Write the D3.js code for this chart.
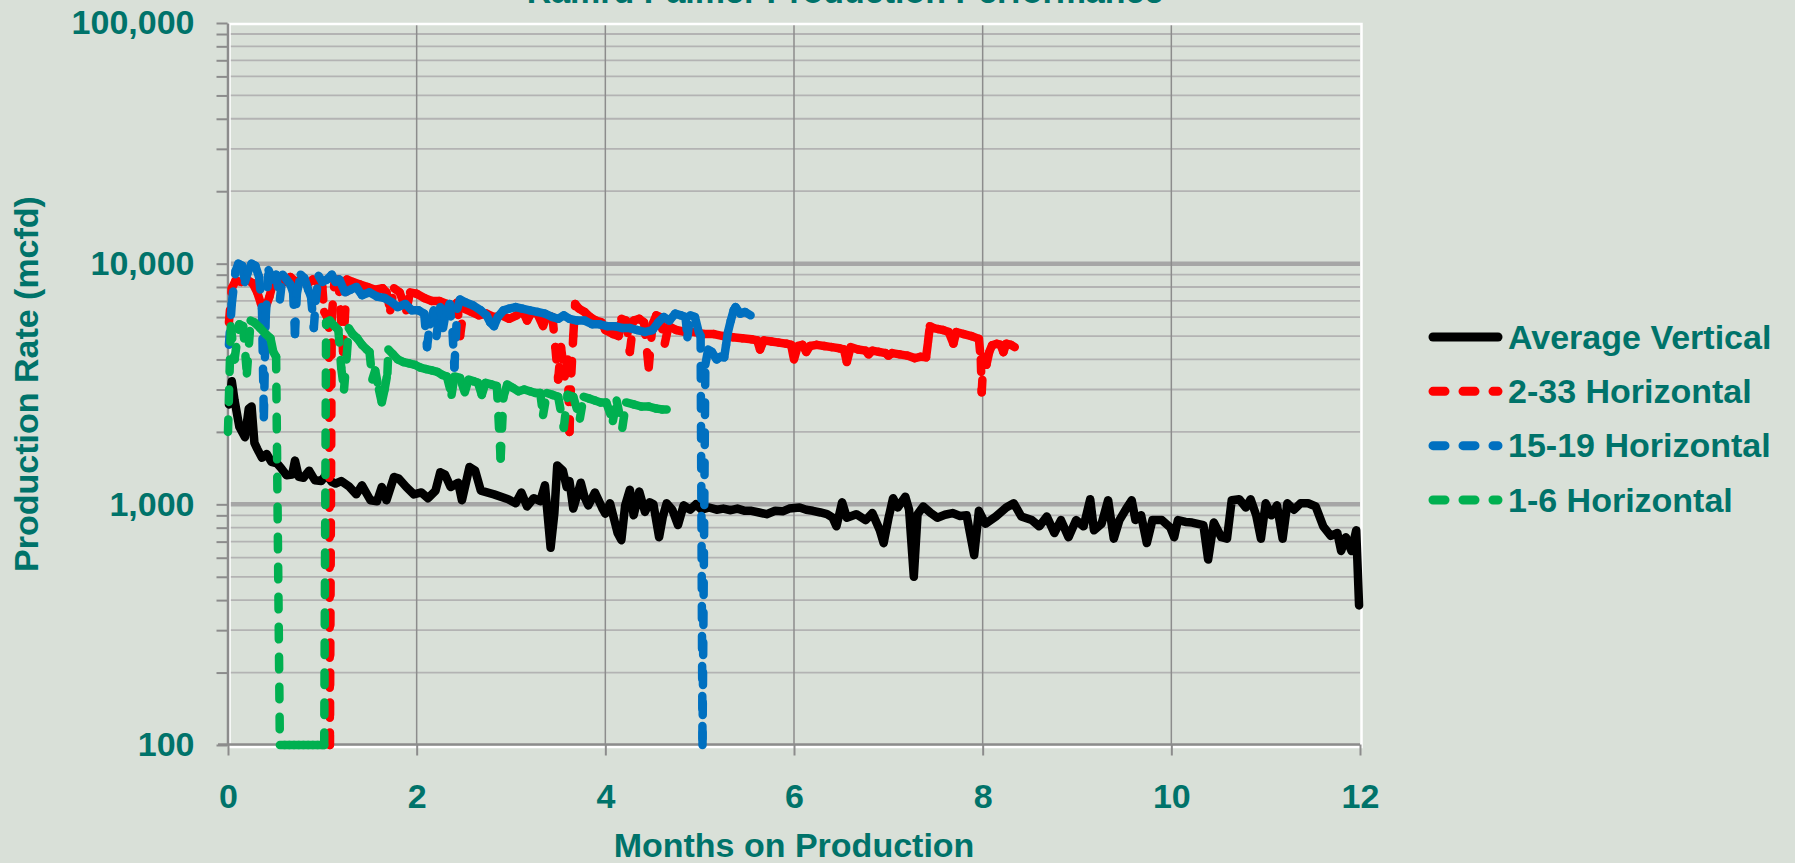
<!DOCTYPE html>
<html>
<head>
<meta charset="utf-8">
<script src="https://cdn.jsdelivr.net/npm/d3@7"></script>
<style>
  html, body { margin: 0; padding: 0; background: #d9e0d8; }
  svg { display: block; }
</style>
</head>
<body>
<svg id="chart" width="1795" height="863"></svg>
<script>
// --- DATA (months on production, rate in mcfd) ---
const chartTitle = 'Ramrd Palmer Production Performance';
const xLabel = 'Months on Production';
const yLabel = 'Production Rate (mcfd)';
const xTicks = [0, 2, 4, 6, 8, 10, 12];
const yLabelTicks = [100, 1000, 10000, 100000];
const seriesNames = ['Average Vertical', '2-33 Horizontal', '15-19 Horizontal', '1-6 Horizontal'];

const avgVertical = [
  [0.01, 2600], [0.04, 3250], [0.07, 2700], [0.12, 2100], [0.18, 1900], [0.22, 2500], [0.25, 2550],
  [0.28, 1800], [0.31, 1700], [0.36, 1560], [0.41, 1620], [0.46, 1500], [0.52, 1480], [0.56, 1420],
  [0.62, 1320], [0.68, 1330], [0.71, 1520], [0.75, 1300], [0.8, 1290], [0.86, 1380], [0.92, 1260],
  [0.99, 1250], [1.04, 1330], [1.1, 1240], [1.14, 1220], [1.2, 1250], [1.28, 1190], [1.36, 1100],
  [1.42, 1200], [1.51, 1040], [1.58, 1030], [1.63, 1180], [1.68, 1040], [1.76, 1300], [1.81, 1280],
  [1.89, 1180], [1.97, 1100], [2.05, 1120], [2.12, 1060], [2.2, 1140], [2.25, 1360], [2.3, 1330],
  [2.36, 1180], [2.44, 1230], [2.48, 1040], [2.56, 1430], [2.62, 1380], [2.68, 1140], [2.82, 1100],
  [2.97, 1050], [3.05, 1010], [3.11, 1120], [3.17, 980], [3.24, 1060], [3.31, 1030], [3.36, 1200],
  [3.42, 660], [3.46, 920], [3.49, 1450], [3.55, 1380], [3.59, 1180], [3.62, 1250], [3.66, 960],
  [3.74, 1230], [3.78, 1070], [3.82, 990], [3.89, 1120], [3.97, 960], [4.0, 915], [4.05, 1010],
  [4.13, 760], [4.17, 710], [4.21, 990], [4.26, 1150], [4.3, 900], [4.36, 1130], [4.42, 930],
  [4.47, 1020], [4.51, 1000], [4.57, 730], [4.61, 890], [4.65, 1010], [4.71, 950], [4.77, 820],
  [4.83, 990], [4.9, 950], [4.96, 1000], [5.02, 950], [5.1, 970], [5.18, 950], [5.25, 960],
  [5.33, 945], [5.4, 960], [5.48, 940], [5.55, 940], [5.63, 925], [5.71, 910], [5.8, 940],
  [5.88, 935], [5.95, 960], [6.06, 970], [6.13, 950], [6.2, 940], [6.28, 925], [6.35, 910],
  [6.41, 880], [6.45, 810], [6.51, 1020], [6.56, 880], [6.66, 910], [6.76, 860], [6.83, 920],
  [6.91, 780], [6.95, 690], [7.0, 870], [7.05, 1060], [7.1, 970], [7.18, 1075], [7.22, 950],
  [7.27, 500], [7.31, 910], [7.37, 980], [7.45, 920], [7.52, 880], [7.6, 905], [7.68, 920],
  [7.76, 895], [7.83, 900], [7.91, 615], [7.96, 940], [8.03, 830], [8.14, 890], [8.25, 970],
  [8.33, 1010], [8.41, 890], [8.52, 860], [8.6, 810], [8.68, 890], [8.76, 760], [8.83, 860],
  [8.91, 730], [8.99, 860], [9.07, 810], [9.14, 1050], [9.18, 780], [9.26, 830], [9.33, 1040],
  [9.39, 720], [9.45, 860], [9.53, 970], [9.58, 1040], [9.62, 860], [9.68, 900], [9.74, 690],
  [9.8, 860], [9.9, 860], [9.99, 800], [10.03, 730], [10.07, 860], [10.15, 845], [10.22, 840],
  [10.34, 820], [10.39, 590], [10.45, 840], [10.53, 730], [10.59, 720], [10.64, 1040], [10.72, 1050],
  [10.79, 970], [10.84, 1050], [10.9, 900], [10.95, 720], [11.0, 1010], [11.06, 900], [11.12, 990],
  [11.18, 720], [11.23, 1010], [11.3, 950], [11.37, 1010], [11.45, 1010], [11.53, 980], [11.61, 810],
  [11.69, 740], [11.76, 760], [11.8, 640], [11.85, 730], [11.91, 640], [11.96, 780], [11.99, 380]
];

const h233 = [
  [0.01, 5700], [0.04, 7900], [0.08, 8500], [0.14, 8400], [0.2, 8600], [0.26, 8300], [0.31, 7600],
  [0.35, 6800], [0.4, 6600], [0.44, 7300], [0.48, 8400], [0.54, 8800], [0.6, 8400], [0.66, 8800],
  [0.72, 8400], [0.78, 8600], [0.84, 8200], [0.9, 8600], [0.96, 8300], [1.0, 8000], [1.02, 6300],
  [1.05, 6000], [1.07, 6100], [1.08, 100], [1.1, 6000], [1.13, 8500], [1.17, 8600], [1.22, 4300],
  [1.26, 8600], [1.32, 8400], [1.4, 8200], [1.48, 8000], [1.56, 7800], [1.64, 7900], [1.68, 7600],
  [1.72, 6400], [1.76, 7900], [1.82, 7600], [1.89, 6400], [1.93, 7600], [2.0, 7500], [2.08, 7200],
  [2.16, 7000], [2.24, 7000], [2.32, 6800], [2.4, 6700], [2.43, 6900], [2.46, 5000], [2.5, 6500],
  [2.58, 6300], [2.66, 6100], [2.74, 6200], [2.82, 6000], [2.9, 6100], [2.98, 5900], [3.06, 6100],
  [3.12, 6400], [3.17, 5800], [3.22, 6300], [3.28, 6200], [3.34, 5500], [3.38, 6100], [3.44, 6000],
  [3.47, 4500], [3.5, 3300], [3.53, 4500], [3.57, 3400], [3.6, 4000], [3.62, 2000], [3.64, 3500],
  [3.66, 5000], [3.68, 6800], [3.72, 6500], [3.78, 6300], [3.84, 6000], [3.9, 5800], [3.96, 5700],
  [4.0, 5300], [4.08, 5100], [4.14, 5000], [4.17, 5900], [4.22, 5800], [4.26, 4300], [4.3, 5800],
  [4.36, 5900], [4.41, 5700], [4.46, 3700], [4.5, 5600], [4.54, 6100], [4.58, 6000], [4.63, 4650],
  [4.67, 5500], [4.75, 5300], [4.85, 5200], [4.95, 5200], [5.05, 5100], [5.15, 5100], [5.25, 5000],
  [5.35, 4950], [5.45, 4900], [5.55, 4850], [5.61, 4800], [5.64, 4400], [5.68, 4800], [5.76, 4750],
  [5.84, 4700], [5.92, 4650], [5.97, 4600], [6.0, 4000], [6.04, 4550], [6.09, 4600], [6.13, 4300],
  [6.17, 4550], [6.24, 4600], [6.32, 4550], [6.4, 4500], [6.48, 4450], [6.53, 4400], [6.56, 3900],
  [6.6, 4500], [6.68, 4400], [6.76, 4350], [6.79, 4200], [6.83, 4350], [6.9, 4300], [6.97, 4250],
  [7.0, 4150], [7.04, 4250], [7.12, 4200], [7.2, 4150], [7.28, 4050], [7.34, 4100], [7.4, 4080],
  [7.42, 4700], [7.44, 5500], [7.48, 5400], [7.53, 5350], [7.58, 5300], [7.64, 5200], [7.69, 4650],
  [7.72, 5200], [7.8, 5100], [7.88, 5000], [7.96, 4870], [7.98, 4000], [7.99, 2920], [8.01, 4100],
  [8.04, 3800], [8.07, 4300], [8.1, 4580], [8.15, 4650], [8.19, 4600], [8.22, 4290], [8.25, 4650],
  [8.3, 4600], [8.34, 4500]
];

const h1519 = [
  [0.01, 4600], [0.04, 6800], [0.08, 9300], [0.11, 10000], [0.15, 9800], [0.18, 8400], [0.21, 9200],
  [0.25, 10000], [0.29, 9800], [0.33, 8800], [0.36, 6500], [0.38, 2300], [0.4, 6000], [0.43, 9400],
  [0.47, 8600], [0.51, 9000], [0.55, 7100], [0.58, 9000], [0.62, 8600], [0.66, 8200], [0.69, 7600],
  [0.71, 5100], [0.73, 7500], [0.77, 9000], [0.81, 8700], [0.85, 7800], [0.88, 7300], [0.91, 5400],
  [0.93, 7000], [0.96, 8900], [1.0, 8400], [1.05, 8600], [1.1, 9000], [1.14, 8400], [1.18, 8600],
  [1.24, 7600], [1.3, 7800], [1.36, 8000], [1.42, 7400], [1.5, 7600], [1.58, 7300], [1.66, 7200],
  [1.74, 6900], [1.8, 6600], [1.88, 6800], [1.95, 6400], [2.02, 6400], [2.08, 6200], [2.11, 4500],
  [2.14, 5600], [2.18, 6400], [2.21, 5000], [2.25, 6600], [2.28, 5400], [2.31, 6300], [2.35, 6800],
  [2.38, 5200], [2.4, 3700], [2.43, 6500], [2.46, 7100], [2.52, 6900], [2.6, 6700], [2.68, 6400],
  [2.74, 6100], [2.78, 5700], [2.82, 5500], [2.86, 6000], [2.92, 6400], [2.98, 6500], [3.05, 6600],
  [3.12, 6500], [3.2, 6400], [3.28, 6300], [3.36, 6200], [3.44, 6000], [3.5, 5900], [3.56, 6100],
  [3.62, 5900], [3.7, 5800], [3.78, 5800], [3.86, 5600], [3.94, 5600], [4.02, 5500], [4.1, 5500],
  [4.18, 5400], [4.26, 5400], [4.34, 5300], [4.42, 5200], [4.5, 5300], [4.56, 5700], [4.62, 6000],
  [4.68, 5800], [4.74, 6200], [4.8, 6100], [4.85, 6000], [4.87, 4950], [4.9, 6100], [4.95, 6000],
  [4.99, 5200], [5.01, 5000], [5.03, 100], [5.06, 3800], [5.09, 4400], [5.13, 4300], [5.18, 4000],
  [5.22, 4100], [5.26, 4080], [5.28, 4600], [5.3, 5200], [5.33, 5800], [5.36, 6400], [5.38, 6600],
  [5.43, 6200], [5.48, 6300], [5.54, 6100]
];

const h16 = [
  [0.0, 2000], [0.03, 5500], [0.07, 4000], [0.12, 5600], [0.16, 5500], [0.2, 3500], [0.24, 5800],
  [0.28, 5700], [0.34, 5400], [0.4, 5100], [0.45, 4900], [0.48, 4300], [0.51, 4100], [0.55, 100],
  [0.6, 100], [0.65, 100], [0.7, 100], [0.75, 100], [0.8, 100], [0.85, 100], [0.9, 100], [0.95, 100],
  [1.0, 100], [1.02, 100], [1.04, 5700], [1.08, 5800], [1.13, 5500], [1.17, 5300], [1.2, 3700],
  [1.23, 3000], [1.26, 4200], [1.28, 5400], [1.32, 5100], [1.37, 4900], [1.42, 4600], [1.47, 4400],
  [1.5, 4300], [1.53, 3300], [1.56, 3600], [1.6, 3000], [1.63, 2650], [1.66, 3000], [1.69, 3500],
  [1.7, 4400], [1.75, 4200], [1.8, 4000], [1.86, 3900], [1.92, 3850], [1.98, 3800], [2.04, 3700],
  [2.1, 3650], [2.16, 3600], [2.22, 3550], [2.27, 3450], [2.32, 3400], [2.37, 2850], [2.4, 3400],
  [2.46, 3350], [2.51, 2920], [2.55, 3300], [2.6, 3250], [2.65, 3200], [2.69, 2850], [2.73, 3200],
  [2.79, 3150], [2.85, 3100], [2.89, 1550], [2.92, 2800], [2.96, 3150], [3.02, 3050], [3.08, 2950],
  [3.14, 3000], [3.2, 2950], [3.26, 2900], [3.31, 2900], [3.34, 2350], [3.38, 2900], [3.44, 2850],
  [3.5, 2800], [3.56, 2080], [3.6, 2850], [3.66, 2800], [3.73, 2270], [3.77, 2800], [3.83, 2750],
  [3.89, 2700], [3.95, 2650], [4.01, 2650], [4.08, 2220], [4.12, 2700], [4.18, 2080], [4.22, 2650],
  [4.3, 2600], [4.38, 2550], [4.46, 2550], [4.54, 2500], [4.6, 2480], [4.65, 2480]
];

// --- STYLE ---
const BG = '#d9e0d8';
const TEXT = '#00736a';
const FONT = '"Liberation Sans", Arial, sans-serif';
const LINE_W = 8.5;
const series = [
  { name: seriesNames[0], data: avgVertical, color: '#000000', dashed: false },
  { name: seriesNames[1], data: h233, color: '#ff0000', dashed: true },
  { name: seriesNames[2], data: h1519, color: '#0070c0', dashed: true },
  { name: seriesNames[3], data: h16, color: '#00b050', dashed: true }
];

const svg = d3.select('#chart');
const W = 1795, H = 863;
const plot = { left: 228, right: 1360, top: 23, bottom: 745 };

const x = d3.scaleLinear().domain([0, 12]).range([plot.left, plot.right]);
const y = d3.scaleLog().domain([100, 100000]).range([plot.bottom, plot.top]);
const isMajor = v => Math.abs(Math.log10(v) - Math.round(Math.log10(v))) < 1e-9;
const fmt = d3.format(',');

svg.append('rect').attr('width', W).attr('height', H).attr('fill', BG);

// Titel (oben abgeschnitten wie im Original)
svg.append('text')
  .attr('x', 845).attr('y', 3)
  .attr('text-anchor', 'middle')
  .style('font', `bold 34px ${FONT}`)
  .attr('fill', TEXT)
  .text(chartTitle);

// --- GRID ---
const logTicks = y.ticks();
svg.append('g').attr('class', 'hgrid')
  .selectAll('line')
  .data(logTicks.filter(v => v > 100 && v < 100000))
  .join('line')
  .attr('x1', plot.left).attr('x2', plot.right)
  .attr('y1', d => y(d)).attr('y2', d => y(d))
  .attr('stroke', d => isMajor(d) ? '#a6a6a6' : '#b3b3b3')
  .attr('stroke-width', d => isMajor(d) ? 4.5 : 1.8);

svg.append('g').attr('class', 'vgrid')
  .selectAll('line')
  .data(xTicks.filter(t => t > 0 && t < 12))
  .join('line')
  .attr('x1', d => x(d)).attr('x2', d => x(d))
  .attr('y1', plot.top).attr('y2', plot.bottom)
  .attr('stroke', '#8c8c8c').attr('stroke-width', 1.5);

// weisser Rahmen um die Plotfläche
svg.append('rect')
  .attr('x', plot.left + 1.5).attr('y', plot.top + 1)
  .attr('width', plot.right - plot.left).attr('height', plot.bottom - plot.top + 1)
  .attr('fill', 'none').attr('stroke', '#ffffff').attr('stroke-width', 2.5);

// --- AXES ---
const yAxis = d3.axisLeft(y)
  .tickValues(logTicks)
  .tickFormat(d => yLabelTicks.includes(d) ? fmt(d) : '')
  .tickSize(11).tickSizeOuter(0).tickPadding(22);

const xAxis = d3.axisBottom(x)
  .tickValues(xTicks)
  .tickFormat(d3.format('d'))
  .tickSize(11).tickSizeOuter(0).tickPadding(28);

const gy = svg.append('g').attr('transform', `translate(${plot.left - 0.5},0)`).call(yAxis);
const gx = svg.append('g').attr('transform', `translate(0,${plot.bottom - 0.5})`).call(xAxis);

[gy, gx].forEach(g => {
  g.select('.domain').attr('stroke', '#8c8c8c').attr('stroke-width', 2.5);
  g.selectAll('.tick line').attr('stroke', '#8c8c8c').attr('stroke-width', 2);
  g.selectAll('.tick text')
    .attr('fill', TEXT)
    .style('font', `bold 34px ${FONT}`);
});
gx.select('.domain').attr('d', `M${plot.left - 10},0H${plot.right}`);

// Achsentitel
svg.append('text')
  .attr('x', (plot.left + plot.right) / 2).attr('y', 857)
  .attr('text-anchor', 'middle')
  .style('font', `bold 34px ${FONT}`)
  .attr('fill', TEXT)
  .text(xLabel);

svg.append('text')
  .attr('transform', `translate(38,${(plot.top + plot.bottom) / 2}) rotate(-90)`)
  .attr('text-anchor', 'middle')
  .style('font', `bold 34px ${FONT}`)
  .attr('fill', TEXT)
  .text(yLabel);

// --- SERIES ---
// Excel startet das Strichmuster pro Segment neu -> jedes Segment als eigene Linie
const lineGen = d3.line().x(d => x(d[0])).y(d => y(d[1]));
const gSeries = svg.append('g').attr('class', 'series');

series.forEach(s => {
  if (!s.dashed) {
    gSeries.append('path')
      .datum(s.data)
      .attr('d', lineGen)
      .attr('fill', 'none')
      .attr('stroke', s.color)
      .attr('stroke-width', LINE_W)
      .attr('stroke-linejoin', 'round')
      .attr('stroke-linecap', 'round');
    return;
  }
  gSeries.append('g')
    .selectAll('line')
    .data(d3.pairs(s.data))
    .join('line')
    .attr('x1', d => x(d[0][0])).attr('y1', d => y(d[0][1]))
    .attr('x2', d => x(d[1][0])).attr('y2', d => y(d[1][1]))
    .attr('stroke', s.color)
    .attr('stroke-width', LINE_W)
    .attr('stroke-linecap', 'round')
    .attr('stroke-dasharray', '12.5,17.5');
});

// --- LEGEND ---
const legend = svg.append('g').attr('class', 'legend');
const legendY = d3.scalePoint().domain(seriesNames).range([337, 500]);

legend.selectAll('line')
  .data(series)
  .join('line')
  .attr('x1', 1433).attr('x2', 1498)
  .attr('y1', d => legendY(d.name)).attr('y2', d => legendY(d.name))
  .attr('stroke', d => d.color)
  .attr('stroke-width', 9)
  .attr('stroke-linecap', 'round')
  .attr('stroke-dasharray', d => d.dashed ? '12,18' : null);

legend.selectAll('text')
  .data(series)
  .join('text')
  .attr('x', 1508)
  .attr('y', d => legendY(d.name) + 11.5)
  .style('font', `bold 34px ${FONT}`)
  .attr('fill', TEXT)
  .text(d => d.name);
</script>
</body>
</html>
